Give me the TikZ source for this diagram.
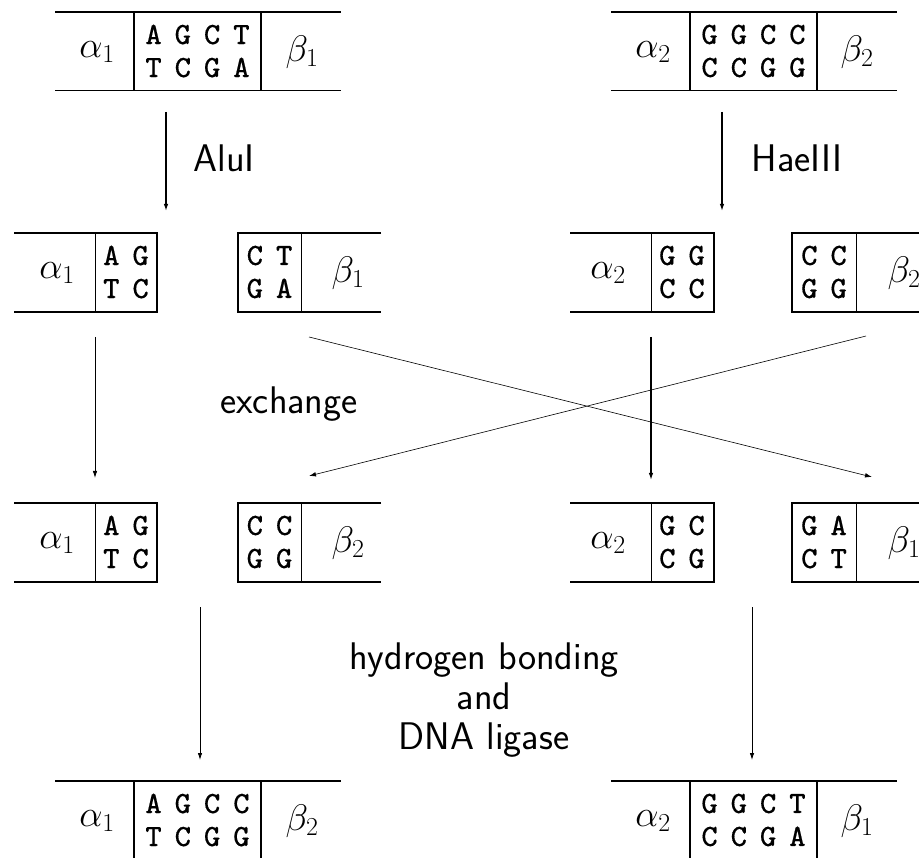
\RequirePackage{fix-cm}
\documentclass[tikz,border=0pt]{standalone}
\usepackage{fontspec}
\newfontfamily\seqfont[WordSpace=0.78,FakeBold=0.4]{lmmono8-regular.otf}
\usetikzlibrary{arrows.meta}
\begin{document}
\begin{tikzpicture}[x=1pt,y=-1pt,
  strand/.style={line width=1.3pt},
  cut/.style={line width=0.9pt},
  seq/.style={font=\seqfont\fontsize{31}{33}\selectfont,align=center,inner sep=0pt},
  lab/.style={font=\fontsize{37}{44}\selectfont,inner sep=0pt},
  note/.style={font=\sffamily\fontsize{38.5}{40}\selectfont,align=center,inner sep=0pt},
  arr/.style={-{Latex[length=7pt,width=4.5pt]},line width=0.8pt},
  thickarr/.style={arr,line width=1.3pt},
  thinarr/.style={arr,line width=0.6pt}]
\useasboundingbox (0,0) rectangle (919,858);
\clip (0,0) rectangle (919,858);

% ---------- row 1 ----------
\draw[strand] (55,12) -- (341,12) (55,90.5) -- (341,90.5)
  (134,12) -- (134,90.5) (261,12) -- (261,90.5);
\node[lab] (r1a) at (97,52) {$\alpha_1$};
\node[seq] (r1s) at (197.5,51) {A G C T\\T C G A};
\node[lab] (r1b) at (302,52) {$\beta_1$};

\draw[strand] (611,12) -- (897,12) (611,90.5) -- (897,90.5)
  (690,12) -- (690,90.5) (817,12) -- (817,90.5);
\node[lab] (r1c) at (653,52) {$\alpha_2$};
\node[seq] (r1t) at (753.5,51) {G G C C\\C C G G};
\node[lab] (r1d) at (857,52) {$\beta_2$};

% arrows row 1 -> row 2
\coordinate (e1s) at (166,112); \coordinate (e1e) at (166,211);
\coordinate (e2s) at (722,112); \coordinate (e2e) at (722,211);
\draw[thickarr] (e1s) -- (e1e);
\draw[thickarr] (e2s) -- (e2e);
\node[note] (alu) at (224,158) {AluI};
\node[note] (hae) at (797,158) {HaeIII};

% ---------- row 2 ----------
\draw[strand] (14,233) -- (157,233) -- (157,312) -- (14,312);
\draw[cut] (95,233) -- (95,312);
\node[lab] (r2a) at (57,273) {$\alpha_1$};
\node[seq] (r2s) at (126,272) {A G\\T C};

\draw[strand] (381,233) -- (238,233) -- (238,312) -- (381,312);
\draw[cut] (301,233) -- (301,312);
\node[seq] (r2t) at (269.5,272) {C T\\G A};
\node[lab] (r2b) at (348,273) {$\beta_1$};

\draw[strand] (570,233) -- (714,233) -- (714,312) -- (570,312);
\draw[cut] (651,233) -- (651,312);
\node[lab] (r2c) at (608,273) {$\alpha_2$};
\node[seq] (r2u) at (682,272) {G G\\C C};

\draw[strand] (930,233) -- (792,233) -- (792,312) -- (930,312);
\draw[cut] (856,233) -- (856,312);
\node[seq] (r2v) at (824,272) {C C\\G G};
\node[lab] (r2d) at (904,273) {$\beta_2$};

% arrows row 2 -> row 3
\coordinate (x1s) at (95,337);  \coordinate (x1e) at (95,478);
\coordinate (x2s) at (651,337); \coordinate (x2e) at (651,480);
\coordinate (x3s) at (309,337); \coordinate (x3e) at (872,477);
\coordinate (x4s) at (866,336); \coordinate (x4e) at (309,476);
\draw[arr] (x1s) -- (x1e);
\draw[thickarr] (x2s) -- (x2e);
\draw[thinarr] (x3s) -- (x3e);
\draw[thinarr] (x4s) -- (x4e);
\node[note] (exch) at (289,404) {exchange};

% ---------- row 3 ----------
\draw[strand] (14,503) -- (157,503) -- (157,582) -- (14,582);
\draw[cut] (95,503) -- (95,582);
\node[lab] (r3a) at (57,543) {$\alpha_1$};
\node[seq] (r3s) at (126,542) {A G\\T C};

\draw[strand] (381,503) -- (238,503) -- (238,582) -- (381,582);
\draw[cut] (301,503) -- (301,582);
\node[seq] (r3t) at (269.5,542) {C C\\G G};
\node[lab] (r3b) at (348,543) {$\beta_2$};

\draw[strand] (570,503) -- (714,503) -- (714,582) -- (570,582);
\draw[cut] (651,503) -- (651,582);
\node[lab] (r3c) at (608,543) {$\alpha_2$};
\node[seq] (r3u) at (682,542) {G C\\C G};

\draw[strand] (930,503) -- (792,503) -- (792,582) -- (930,582);
\draw[cut] (856,503) -- (856,582);
\node[seq] (r3v) at (824,542) {G A\\C T};
\node[lab] (r3d) at (904,543) {$\beta_1$};

% arrows row 3 -> row 4
\coordinate (l1s) at (200,607); \coordinate (l1e) at (200,760);
\coordinate (l2s) at (752,607); \coordinate (l2e) at (752,760);
\draw[arr] (l1s) -- (l1e);
\draw[arr] (l2s) -- (l2e);
\node[note] (lig) at (484,700) {hydrogen bonding\\and\\DNA ligase};

% ---------- row 4 ----------
\draw[strand] (55,781) -- (341,781) (55,860) -- (341,860)
  (134,781) -- (134,860) (261,781) -- (261,860);
\node[lab] (r4a) at (97,821) {$\alpha_1$};
\node[seq] (r4s) at (197.5,820) {A G C C\\T C G G};
\node[lab] (r4b) at (302,821) {$\beta_2$};

\draw[strand] (611,781) -- (897,781) (611,860) -- (897,860)
  (690,781) -- (690,860) (817,781) -- (817,860);
\node[lab] (r4c) at (653,821) {$\alpha_2$};
\node[seq] (r4t) at (753.5,820) {G G C T\\C C G A};
\node[lab] (r4d) at (857,821) {$\beta_1$};
\end{tikzpicture}
\end{document}
